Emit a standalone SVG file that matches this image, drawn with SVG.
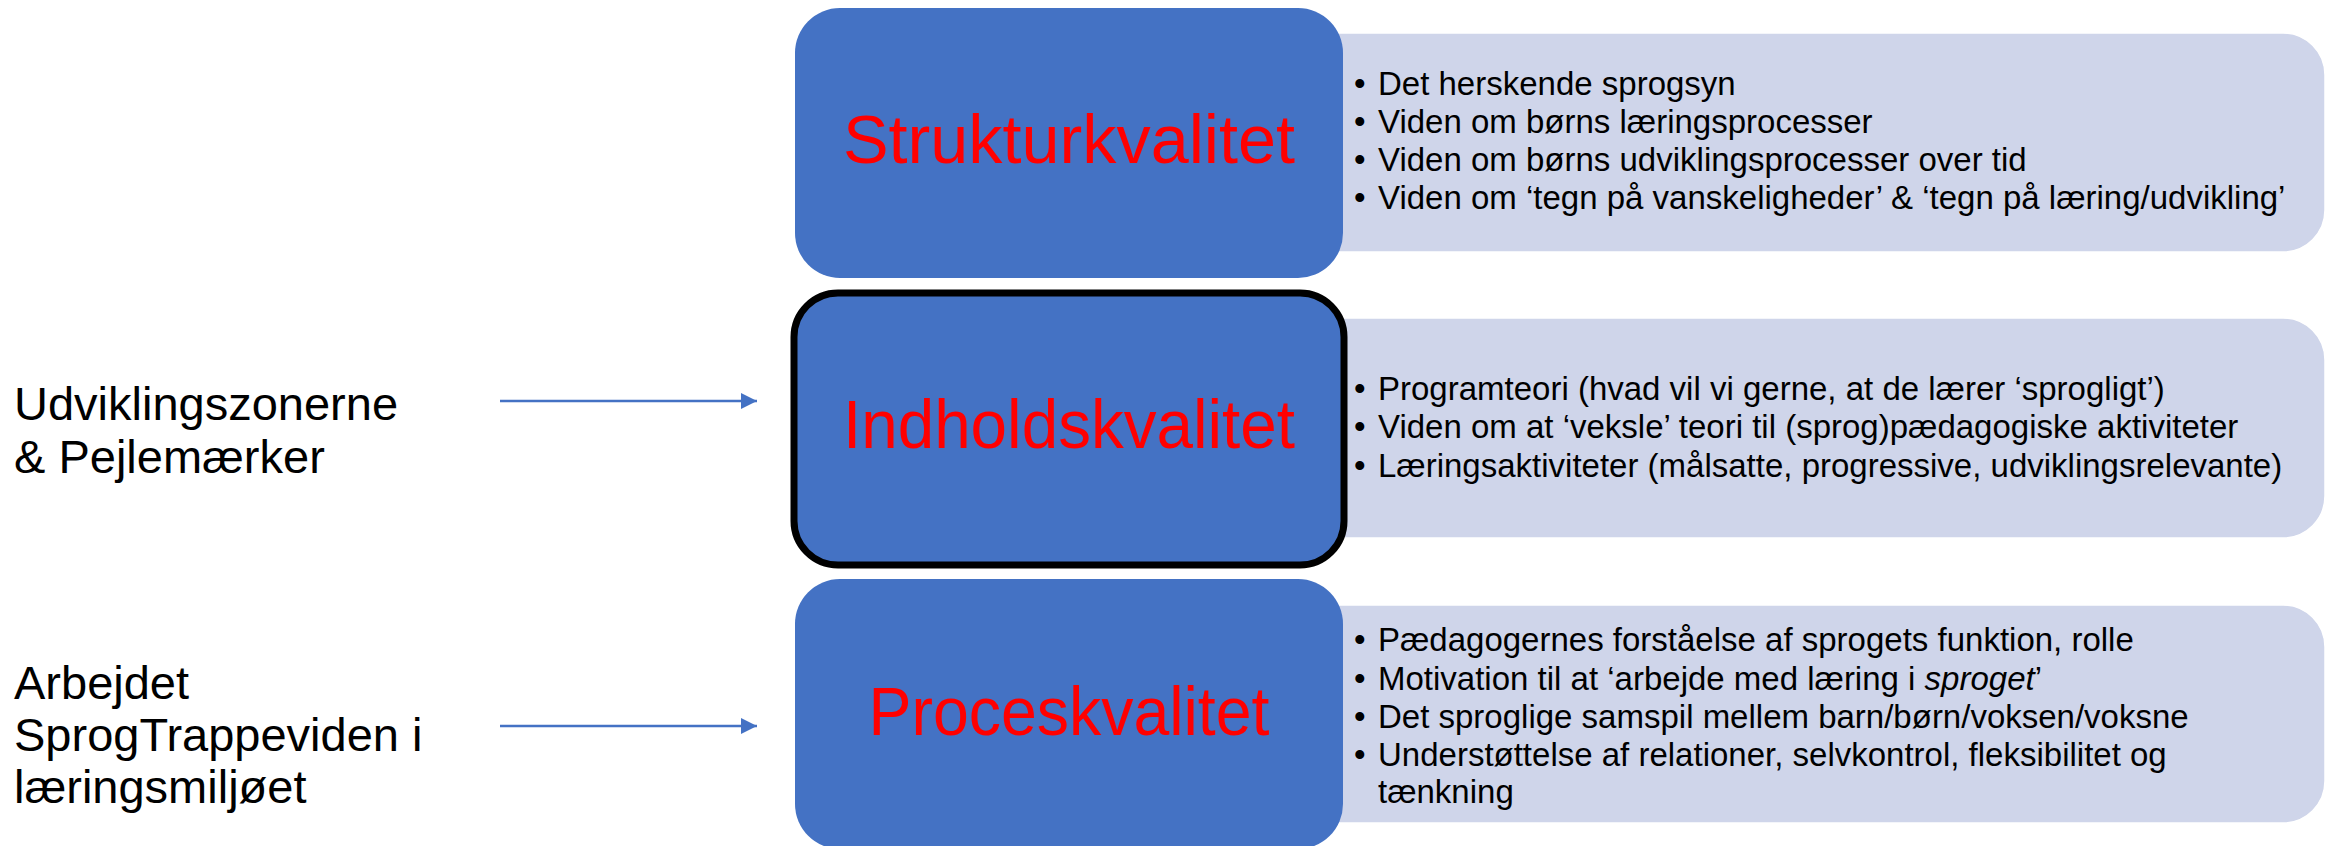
<svg xmlns="http://www.w3.org/2000/svg" width="2333" height="846" viewBox="0 0 2333 846">
<style>
.box{fill:#4472C4;}
.panel{fill:#CFD5EA;stroke:#FFFFFF;stroke-width:1.5;}
.title{font-family:"Liberation Sans",Arial,sans-serif;font-size:68px;fill:#FF0000;text-anchor:middle;}
.item{font-family:"Liberation Sans",Arial,sans-serif;font-size:33px;fill:#000000;}
.side{font-family:"Liberation Sans",Arial,sans-serif;font-size:47px;fill:#000000;}
.conn{stroke:#4472C4;stroke-width:2.7;fill:none;}
</style>
<defs>
<marker id="arrow" markerWidth="6" markerHeight="6" refX="6" refY="3" orient="auto" markerUnits="strokeWidth">
<path d="M0,0 L6,3 L0,6 Z" fill="#4472C4"/>
</marker>
</defs>
<rect width="2333" height="846" fill="#FFFFFF"/>

<g id="panel-struktur">
<rect class="panel" x="1290" y="33" width="1035" height="219" rx="42" ry="42"/>
<text class="item" x="1354" y="95">•</text><text class="item" x="1378" y="95">Det herskende sprogsyn</text>
<text class="item" x="1354" y="133">•</text><text class="item" x="1378" y="133">Viden om børns læringsprocesser</text>
<text class="item" x="1354" y="171">•</text><text class="item" x="1378" y="171">Viden om børns udviklingsprocesser over tid</text>
<text class="item" x="1354" y="209">•</text><text class="item" x="1378" y="209">Viden om ‘tegn på vanskeligheder’ &amp; ‘tegn på læring/udvikling’</text>
</g>

<g id="panel-indhold">
<rect class="panel" x="1290" y="318" width="1035" height="220" rx="42" ry="42"/>
<text class="item" x="1354" y="400">•</text><text class="item" x="1378" y="400">Programteori (hvad vil vi gerne, at de lærer ‘sprogligt’)</text>
<text class="item" x="1354" y="438">•</text><text class="item" x="1378" y="438">Viden om at ‘veksle’ teori til (sprog)pædagogiske aktiviteter</text>
<text class="item" x="1354" y="477">•</text><text class="item" x="1378" y="477">Læringsaktiviteter (målsatte, progressive, udviklingsrelevante)</text>
</g>

<g id="panel-proces">
<rect class="panel" x="1290" y="605" width="1035" height="218" rx="42" ry="42"/>
<text class="item" x="1354" y="651">•</text><text class="item" x="1378" y="651">Pædagogernes forståelse af sprogets funktion, rolle</text>
<text class="item" x="1354" y="690">•</text><text class="item" x="1378" y="690">Motivation til at ‘arbejde med læring i <tspan font-style="italic">sproget</tspan>’</text>
<text class="item" x="1354" y="728">•</text><text class="item" x="1378" y="728">Det sproglige samspil mellem barn/børn/voksen/voksne</text>
<text class="item" x="1354" y="766">•</text><text class="item" x="1378" y="766">Understøttelse af relationer, selvkontrol, fleksibilitet og</text>
<text class="item" x="1378" y="803">tænkning</text>
</g>

<g id="node-struktur">
<rect class="box" x="795" y="8" width="548" height="270" rx="45" ry="45"/>
<text class="title" x="1069" y="163" textLength="452" lengthAdjust="spacingAndGlyphs">Strukturkvalitet</text>
</g>

<g id="node-indhold">
<rect class="box" x="794" y="293" width="550" height="272" rx="44" ry="44" stroke="#000000" stroke-width="7"/>
<text class="title" x="1069" y="448" textLength="452" lengthAdjust="spacingAndGlyphs">Indholdskvalitet</text>
</g>

<g id="node-proces">
<rect class="box" x="795" y="579" width="548" height="270" rx="45" ry="45"/>
<text class="title" x="1069" y="735" textLength="401" lengthAdjust="spacingAndGlyphs">Proceskvalitet</text>
</g>

<g id="node-udvikling">
<text class="side" x="14" y="420">Udviklingszonerne</text>
<text class="side" x="14" y="473">&amp; Pejlemærker</text>
</g>

<g id="node-arbejdet">
<text class="side" x="14" y="699">Arbejdet</text>
<text class="side" x="14" y="751">SprogTrappeviden i</text>
<text class="side" x="14" y="803">læringsmiljøet</text>
</g>

<g id="connectors">
<line class="conn" x1="500" y1="401" x2="757" y2="401" marker-end="url(#arrow)"/>
<line class="conn" x1="500" y1="726" x2="757" y2="726" marker-end="url(#arrow)"/>
</g>
</svg>
